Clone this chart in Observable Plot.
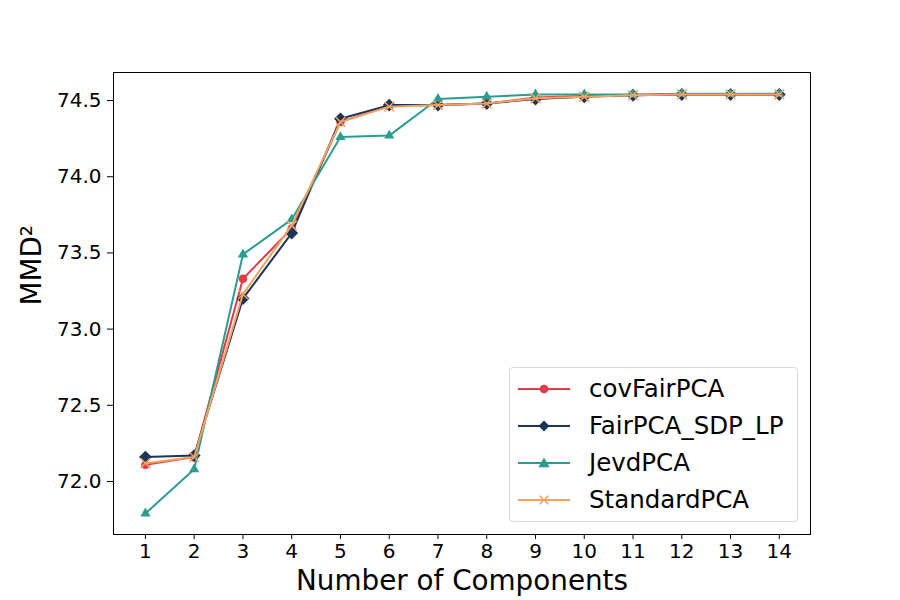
<!DOCTYPE html>
<html>
<head>
<meta charset="utf-8">
<script src="https://cdn.jsdelivr.net/npm/d3@7"></script>
<script src="https://cdn.jsdelivr.net/npm/@observablehq/plot@0.6"></script>
<style>
  html, body { margin: 0; padding: 0; background: #fff; }
  #wrap { position: relative; width: 900px; height: 600px; font-family: "DejaVu Sans", sans-serif; }
  #legend { position: absolute; left: 509px; top: 367px; width: 289px; height: 155px; box-sizing: border-box;
    border: 1px solid #d9d9d9; border-radius: 4px; background: rgba(255,255,255,0.85); padding-top: 2px; }
  .item { display: flex; align-items: center; height: 37px; font-size: 24.5px; color: #000; }
  .item svg { margin-left: 8px; margin-right: 19px; }
</style>
</head>
<body>
<div id="wrap"><div id="legend"></div></div>
<script>
const components = [1,2,3,4,5,6,7,8,9,10,11,12,13,14];
const seriesNames = ["covFairPCA","FairPCA_SDP_LP","JevdPCA","StandardPCA"];
const covFairPCA    = [72.11,72.16,73.33,73.66,74.36,74.465,74.47,74.48,74.52,74.53,74.535,74.54,74.54,74.54];
const FairPCA_SDP_LP = [72.16,72.17,73.20,73.63,74.38,74.47,74.47,74.48,74.51,74.525,74.535,74.54,74.54,74.54];
const JevdPCA       = [71.79,72.08,73.49,73.72,74.26,74.27,74.51,74.525,74.54,74.54,74.54,74.545,74.545,74.545];
const StandardPCA   = [72.12,72.16,73.23,73.68,74.36,74.46,74.47,74.48,74.515,74.525,74.535,74.54,74.54,74.54];
const yTicks = [72.0,72.5,73.0,73.5,74.0,74.5];
const colors = ["#e63946","#1d3557","#2a9d8f","#f4a261"];
const symbols = ["circle","diamond2","triangle","times"];

const allValues = [covFairPCA, FairPCA_SDP_LP, JevdPCA, StandardPCA];
const data = [];
seriesNames.forEach((s, i) => components.forEach((c, j) => data.push({series: s, x: c, y: allValues[i][j]})));

const sizes = {circle: 4.3, diamond2: 5.8, triangle: 3.8, times: 4.5};
const marks = [Plot.frame({stroke: "#000", strokeWidth: 1})];
seriesNames.forEach((s, i) => {
  const d = data.filter(r => r.series === s);
  marks.push(Plot.line(d, {x: "x", y: "y", stroke: colors[i], strokeWidth: 2}));
  if (symbols[i] === "times") {
    marks.push(Plot.dot(d, {x: "x", y: "y", symbol: "times", stroke: colors[i], strokeWidth: 1.5, r: sizes.times, fill: "none"}));
  } else {
    marks.push(Plot.dot(d, {x: "x", y: "y", symbol: symbols[i], fill: colors[i], stroke: "none", r: sizes[symbols[i]]}));
  }
});
marks.push(Plot.axisX({ticks: components, tickSize: 5, tickPadding: 4, fontSize: 20, label: null, tickFormat: d3.format("d")}));
marks.push(Plot.axisY({ticks: yTicks, tickSize: 6, tickPadding: 6, fontSize: 20, label: null, tickFormat: d3.format(".1f")}));
marks.push(Plot.text(["Number of Components"], {frameAnchor: "bottom", dy: 55, fontSize: 27.8, fill: "#000"}));
marks.push(Plot.text(["MMD²"], {frameAnchor: "left", dx: -81, dy: 2, rotate: -90, fontSize: 27.8, fill: "#000"}));

const chart = Plot.plot({
  width: 900, height: 600,
  marginLeft: 113, marginRight: 90, marginTop: 72, marginBottom: 66,
  style: {fontFamily: "DejaVu Sans, sans-serif", color: "#000", background: "#fff", overflow: "visible"},
  x: {domain: [0.345, 14.64]},
  y: {domain: [71.652, 74.684]},
  marks
});
chart.style.position = "absolute";
chart.style.left = "0"; chart.style.top = "0";
const wrap = document.getElementById("wrap");
wrap.insertBefore(chart, wrap.firstChild);

const legend = document.getElementById("legend");
seriesNames.forEach((s, i) => {
  const item = document.createElement("div");
  item.className = "item";
  const sw = d3.create("svg").attr("width", 52).attr("height", 20);
  sw.append("line").attr("x1", 0).attr("x2", 52).attr("y1", 10).attr("y2", 10).attr("stroke", colors[i]).attr("stroke-width", 2);
  if (symbols[i] === "diamond2") {
    sw.append("path").attr("d", d3.symbol(d3.symbolSquare, 60)()).attr("transform", "translate(26,10) rotate(45)").attr("fill", colors[i]);
  } else if (symbols[i] === "times") {
    sw.append("path").attr("d", d3.symbol(d3.symbolTimes || d3.symbolX, 50)()).attr("transform", "translate(26,10)").attr("fill", "none").attr("stroke", colors[i]).attr("stroke-width", 1.5);
  } else if (symbols[i] === "triangle") {
    sw.append("path").attr("d", d3.symbol(d3.symbolTriangle, 55)()).attr("transform", "translate(26,11)").attr("fill", colors[i]);
  } else {
    sw.append("path").attr("d", d3.symbol(d3.symbolCircle, 60)()).attr("transform", "translate(26,10)").attr("fill", colors[i]);
  }
  item.appendChild(sw.node());
  const t = document.createElement("span");
  t.textContent = s;
  item.appendChild(t);
  legend.appendChild(item);
});
</script>
</body>
</html>
